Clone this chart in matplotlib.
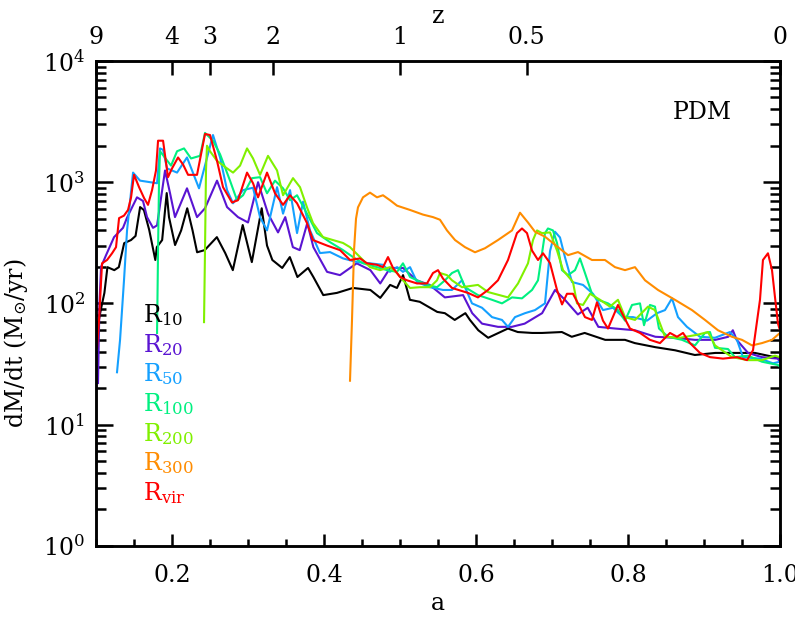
import numpy as np
import matplotlib
matplotlib.use('Agg')
import matplotlib.pyplot as plt
from matplotlib.ticker import FixedLocator, LogLocator, NullFormatter, FuncFormatter, MultipleLocator

plt.rcParams['font.family'] = ['DejaVu Serif']
plt.rcParams['mathtext.fontset'] = 'dejavuserif'

# ---------------- data (a = expansion factor, v = dM/dt in Msun/yr) -------------
a_r10 = [0.101, 0.107, 0.111, 0.115, 0.124, 0.130, 0.137, 0.146, 0.152, 0.158, 0.163, 0.170, 0.178,
         0.180, 0.187, 0.193, 0.196, 0.204, 0.212, 0.220, 0.227, 0.233, 0.243, 0.259, 0.270, 0.280,
         0.293, 0.305, 0.318, 0.325, 0.332, 0.345, 0.355, 0.365, 0.379, 0.386, 0.399, 0.417, 0.438,
         0.461, 0.474, 0.487, 0.496, 0.504, 0.513, 0.526, 0.549, 0.559, 0.572, 0.586, 0.592, 0.603,
         0.616, 0.642, 0.655, 0.674, 0.687, 0.713, 0.726, 0.743, 0.770, 0.796, 0.809, 0.836, 0.862,
         0.888, 0.915, 0.941, 0.967, 0.993, 1.0]
v_r10 = [60, 93, 122, 199, 188, 199, 314, 333, 360, 623, 589, 403, 228,
         291, 333, 813, 515, 303, 400, 609, 400, 264, 275, 352, 260, 188,
         443, 219, 609, 300, 228, 196, 241, 165, 196, 165, 117, 122, 134,
         129, 111, 142, 134, 171, 107, 103, 85, 83, 73, 83, 73, 60,
         52, 62, 58, 57, 57, 58, 53, 57, 50, 50, 47, 43.5, 41,
         37.5, 39, 39, 39, 36, 35]

a_r20 = [0.1026, 0.1045, 0.1066, 0.1132, 0.1237, 0.1355, 0.1408, 0.1539, 0.1618, 0.1671, 0.175,
         0.1803, 0.1908, 0.1974, 0.2039, 0.2197, 0.2329, 0.2434, 0.2592, 0.2724, 0.2868, 0.300,
         0.3132, 0.3263, 0.3395, 0.349, 0.359, 0.368, 0.378, 0.386, 0.404, 0.421, 0.443, 0.461,
         0.474, 0.487, 0.504, 0.522, 0.539, 0.559, 0.583, 0.595, 0.608, 0.629, 0.647, 0.664,
         0.687, 0.704, 0.717, 0.734, 0.747, 0.761, 0.783, 0.809, 0.836, 0.862, 0.888, 0.915,
         0.932, 0.938, 0.943, 0.958, 0.976, 0.997, 1.0]
v_r20 = [22, 100, 200, 250, 352, 420, 510, 750, 700, 515, 420,
         440, 1250, 810, 515, 890, 515, 609, 1030, 623, 515, 465,
         1000, 550, 385, 515, 291, 275, 460, 291, 182, 171, 214, 188,
         146, 196, 196, 155, 142, 112, 117, 83, 68, 64, 64, 68,
         83, 129, 107, 81, 92, 64, 62, 60, 53, 52, 50, 50,
         53, 60, 50, 39, 36, 35, 33]

a_r50 = [0.1276, 0.1316, 0.1368, 0.1408, 0.1487, 0.1579, 0.1711, 0.1803, 0.1842, 0.1882, 0.1934,
         0.2066, 0.2197, 0.2355, 0.2539, 0.2632, 0.2724, 0.2803, 0.2934, 0.3066, 0.3158, 0.325,
         0.3382, 0.3461, 0.3553, 0.3645, 0.3724, 0.3816, 0.3947, 0.4079, 0.425, 0.4434, 0.4605,
         0.4776, 0.4868, 0.4961, 0.5039, 0.5132, 0.5224, 0.5395, 0.5566, 0.5684, 0.5816, 0.5947,
         0.6079, 0.6211, 0.6342, 0.6421, 0.6513, 0.6645, 0.6776, 0.6908, 0.6974, 0.7039, 0.7105,
         0.7171, 0.7263, 0.7408, 0.7539, 0.7671, 0.7803, 0.7934, 0.8066, 0.825, 0.8382, 0.8487,
         0.8579, 0.8658, 0.8776, 0.8947, 0.9145, 0.9342, 0.9434, 0.9513, 0.9737, 0.9908, 1.0]
v_r50 = [27, 50, 155, 400, 1200, 1030, 1000, 980, 1900, 1850, 1300,
         1200, 1600, 890, 2450, 1600, 860, 670, 860, 900, 515, 400,
         910, 550, 860, 380, 690, 400, 260, 265, 235, 219, 214,
         208, 182, 199, 182, 199, 150, 136, 129, 129, 155, 100,
         92, 77, 73, 64, 77, 83, 88, 100, 270, 390, 350,
         240, 150, 142, 120, 88, 92, 77, 77, 72, 83, 88,
         110, 77, 64, 53, 52, 58, 50, 36, 35, 32, 33]

a_r100 = [0.1803, 0.1816, 0.1829, 0.1842, 0.1987, 0.2066, 0.2158, 0.225, 0.2368, 0.2434, 0.2539,
          0.2632, 0.2763, 0.2855, 0.2934, 0.3053, 0.3158, 0.325, 0.3355, 0.3461, 0.3553, 0.3645,
          0.3776, 0.3908, 0.4079, 0.425, 0.4382, 0.4513, 0.4697, 0.4829, 0.4961, 0.5039, 0.5132,
          0.5224, 0.5355, 0.5487, 0.5592, 0.5684, 0.5763, 0.5855, 0.6026, 0.6211, 0.6342, 0.6474,
          0.6605, 0.6737, 0.6816, 0.6908, 0.6947, 0.7013, 0.7066, 0.7132, 0.7211, 0.7303, 0.7368,
          0.7434, 0.7526, 0.7605, 0.7737, 0.7868, 0.7961, 0.8053, 0.8158, 0.8211, 0.8289, 0.8355,
          0.8408, 0.8526, 0.8711, 0.8882, 0.9013, 0.9079, 0.9145, 0.9316, 0.9408, 0.9579, 0.9763,
          0.9974, 1.0]
v_r100 = [57, 273, 1030, 1800, 1370, 1800, 1900, 1570, 1650, 2550, 2200,
          1700, 1030, 710, 780, 1080, 1100, 810, 1030, 890, 710, 780,
          550, 380, 320, 275, 241, 214, 199, 188, 182, 214, 165,
          155, 142, 136, 155, 178, 188, 136, 117, 107, 100, 112,
          110, 129, 155, 380, 415, 400, 315, 188, 171, 188, 235,
          178, 120, 107, 100, 88, 72, 97, 100, 66, 97, 94,
          62, 53, 50, 45, 57, 58, 43, 42, 36, 37, 33,
          31, 30]

a_r200 = [0.2421, 0.2434, 0.2447, 0.246, 0.250, 0.2592, 0.2724, 0.2803, 0.2895, 0.2987, 0.3066,
          0.3158, 0.3263, 0.3382, 0.3461, 0.3592, 0.3684, 0.3776, 0.3855, 0.3987, 0.4118, 0.425,
          0.4342, 0.4474, 0.4605, 0.4737, 0.4868, 0.4961, 0.5039, 0.5132, 0.5263, 0.5395, 0.5487,
          0.5526, 0.5618, 0.5684, 0.5816, 0.6026, 0.6158, 0.6421, 0.6553, 0.6684, 0.675, 0.6803,
          0.6868, 0.6974, 0.7066, 0.7145, 0.7276, 0.7329, 0.7408, 0.750, 0.7632, 0.7763, 0.7868,
          0.7961, 0.8092, 0.8263, 0.8355, 0.8487, 0.8684, 0.8908, 0.9053, 0.9145, 0.9368, 0.9579,
          0.9763, 0.9934, 1.0]
v_r200 = [70, 275, 1250, 2000, 1800, 1500, 1300, 1200, 1370, 1900, 1570,
          1150, 1650, 1250, 780, 1080, 910, 620, 460, 352, 333, 315,
          291, 241, 199, 188, 199, 178, 155, 134, 136, 136, 155,
          178, 171, 155, 136, 142, 124, 112, 146, 214, 333, 400,
          380, 385, 273, 188, 150, 100, 97, 120, 107, 94, 107,
          77, 73, 94, 88, 53, 52, 55, 58, 45, 36, 34,
          34, 37, 36]

a_r300 = [0.4342, 0.4368, 0.4395, 0.4421, 0.4447, 0.4513, 0.4605, 0.4697, 0.4776, 0.4868, 0.4961,
          0.5132, 0.5303, 0.5434, 0.5526, 0.5618, 0.5724, 0.5855, 0.5987, 0.6118, 0.6289, 0.6474,
          0.6579, 0.6684, 0.6776, 0.6908, 0.7079, 0.7211, 0.7342, 0.7526, 0.7697, 0.7829, 0.7961,
          0.8092, 0.8224, 0.8395, 0.8618, 0.8842, 0.9013, 0.9184, 0.9368, 0.950, 0.9632, 0.9763,
          0.9895, 1.0]
v_r300 = [23, 72, 275, 500, 620, 750, 820, 750, 780, 710, 640,
          590, 540, 515, 490, 400, 333, 291, 264, 285, 333, 400,
          560, 465, 390, 355, 291, 250, 265, 228, 228, 199, 188,
          199, 155, 129, 107, 88, 73, 60, 53, 50, 45, 47,
          50, 57]

a_rvir = [0.1013, 0.1039, 0.1079, 0.1145, 0.1211, 0.1263, 0.1303, 0.1368, 0.1421, 0.1461, 0.150,
          0.1566, 0.1632, 0.1684, 0.1737, 0.1789, 0.1816, 0.1882, 0.1947, 0.200, 0.2079, 0.2145,
          0.2211, 0.2329, 0.2434, 0.250, 0.2592, 0.2671, 0.2789, 0.2868, 0.2987, 0.3066, 0.3132,
          0.325, 0.3355, 0.3461, 0.3553, 0.3645, 0.3776, 0.3855, 0.4039, 0.4211, 0.4342, 0.4474,
          0.4566, 0.4697, 0.4776, 0.4842, 0.4908, 0.500, 0.5092, 0.5224, 0.5355, 0.5434, 0.550,
          0.5566, 0.5684, 0.5895, 0.6026, 0.6158, 0.6289, 0.6421, 0.6539, 0.6605, 0.6671, 0.6737,
          0.6816, 0.6882, 0.6974, 0.7066, 0.7132, 0.7197, 0.7276, 0.7342, 0.7434, 0.7526, 0.7592,
          0.7671, 0.7737, 0.7868, 0.7921, 0.8026, 0.8158, 0.8289, 0.8421, 0.8553, 0.8645, 0.8724,
          0.8816, 0.8947, 0.9079, 0.925, 0.9434, 0.9566, 0.9645, 0.9737, 0.9776, 0.9842, 0.9895,
          0.9934, 0.9974, 1.0]
v_rvir = [43, 72, 214, 228, 259, 291, 505, 530, 590, 750, 1150,
          910, 740, 650, 860, 1250, 2200, 2200, 1100, 1300, 1600, 1400,
          1150, 1150, 2500, 2450, 1500, 910, 680, 710, 1200, 980, 750,
          1200, 810, 650, 780, 670, 460, 333, 300, 275, 228, 235,
          214, 208, 199, 241, 196, 165, 155, 146, 146, 178, 188,
          160, 134, 122, 112, 129, 155, 228, 380, 415, 380, 273,
          228, 259, 215, 129, 98, 120, 120, 100, 77, 73, 102,
          72, 62, 97, 83, 62, 57, 50, 47, 57, 53, 57,
          47, 39, 36, 35, 36, 34, 41, 107, 228, 259, 188,
          113, 68, 60]

labels = ['R$_{10}$', 'R$_{20}$', 'R$_{50}$', 'R$_{100}$', 'R$_{200}$', 'R$_{300}$', 'R$_{\\mathrm{vir}}$']
z_ticks = [9, 4, 3, 2, 1, 0.5, 0]
z_ticklabels = ['9', '4', '3', '2', '1', '0.5', '0']
x_ticks = [0.2, 0.4, 0.6, 0.8, 1.0]
x_ticklabels = ['0.2', '0.4', '0.6', '0.8', '1.0']

# ---------------- style ----------------
colors = ['#000000', '#5a14d2', '#14a0ff', '#00f080', '#80f000', '#ff8c00', '#ff0000']
series = [(a_r10, v_r10), (a_r20, v_r20), (a_r50, v_r50), (a_r100, v_r100),
          (a_r200, v_r200), (a_r300, v_r300), (a_rvir, v_rvir)]

fig = plt.figure(figsize=(7.95, 6.2), dpi=100)
ax = fig.add_axes([0.1208, 0.1198, 0.8603, 0.7818])

for (aa, vv), c in zip(series, colors):
    ax.plot(aa, vv, color=c, lw=1.5, solid_joinstyle='round')

ax.set_yscale('log')
ax.set_xlim(0.1, 1.0)
ax.set_ylim(1, 1e4)

FS = 17
ax.xaxis.set_major_locator(FixedLocator(x_ticks))
ax.set_xticklabels(x_ticklabels)
ax.xaxis.set_minor_locator(MultipleLocator(0.05))
ax.yaxis.set_major_locator(LogLocator(base=10, numticks=10))
ax.yaxis.set_minor_locator(LogLocator(base=10, subs=np.arange(2, 10), numticks=20))
ax.yaxis.set_minor_formatter(NullFormatter())
ax.yaxis.set_major_formatter(FuncFormatter(lambda v, p: '$10^{%d}$' % int(round(np.log10(v)))))

ax.tick_params(axis='x', which='major', direction='in', length=9, width=1.8, labelsize=FS, pad=13, top=False)
ax.tick_params(axis='x', which='minor', direction='in', length=5, width=1.8, top=False)
ax.tick_params(axis='y', which='major', direction='in', length=12, width=1.8, labelsize=FS, pad=8, right=True)
ax.tick_params(axis='y', which='minor', direction='in', length=7, width=1.8, right=True)
for s in ax.spines.values():
    s.set_linewidth(1.8)

ax.set_xlabel('a', fontsize=FS, labelpad=4)
ax.set_ylabel('dM/dt (M$_{\\odot}$/yr)', fontsize=FS)
ax.yaxis.set_label_coords(-0.096, 0.418)

# top axis in redshift
ax2 = ax.twiny()
ax2.set_xlim(ax.get_xlim())
ax2.set_xticks([1.0 / (1.0 + z) for z in z_ticks])
ax2.set_xticklabels(z_ticklabels)
ax2.xaxis.set_minor_locator(FixedLocator([]))
ax2.tick_params(axis='x', which='major', direction='in', length=10, width=1.8, labelsize=FS, pad=9)
for s in ax2.spines.values():
    s.set_linewidth(1.8)
ax2.set_xlabel('z', fontsize=FS, labelpad=2)

ax.text(0.887, 0.893, 'PDM', transform=ax.transAxes, fontsize=FS, ha='center', va='center')

leg_y = [0.4615, 0.4002, 0.339, 0.2779, 0.2168, 0.1551, 0.0939]
for lab, c, yy in zip(labels, colors, leg_y):
    ax.text(0.069, yy, lab, color=c, transform=ax.transAxes, fontsize=FS, ha='left', va='baseline')

fig.savefig('out.png', dpi=100)
